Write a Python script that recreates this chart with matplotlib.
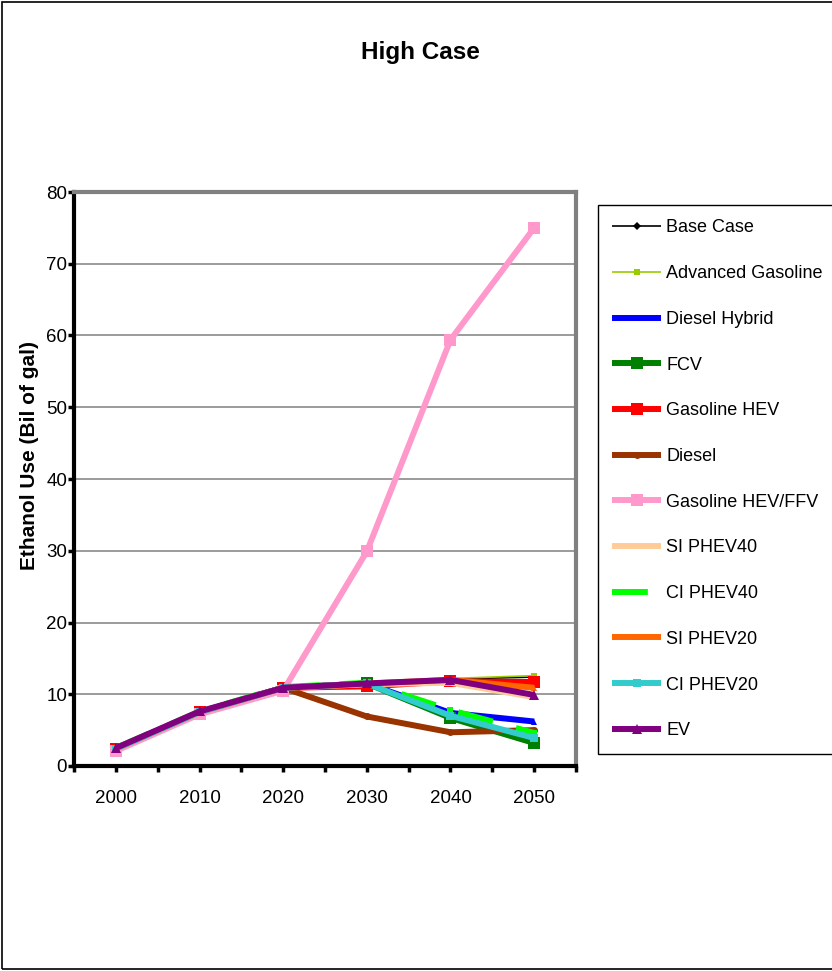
import numpy as np
import matplotlib
matplotlib.use("Agg")
import matplotlib.pyplot as plt
from matplotlib.patches import Rectangle

plt.rcParams["font.family"] = ["Liberation Sans", "DejaVu Sans"]

# ethanol use by scenario, billions of gallons
years = ["2000", "2010", "2020", "2030", "2040", "2050"]
base_case = [2.4, 7.5, 10.9, 11.5, 12.1, 12.4]
adv_gasoline = [2.4, 7.5, 10.9, 11.6, 12.2, 12.6]
diesel_hybrid = [2.4, 7.5, 10.9, 11.5, 7.4, 6.2]
fcv = [2.4, 7.5, 10.9, 11.5, 6.7, 3.2]
gasoline_hev = [2.4, 7.5, 10.9, 11.1, 11.8, 11.7]
diesel = [2.4, 7.5, 10.9, 6.9, 4.7, 5.0]
gasoline_hev_ffv = [2.1, 7.2, 10.5, 29.9, 59.4, 75.0]
si_phev40 = [2.4, 7.5, 10.9, 11.4, 11.6, 9.6]
ci_phev40 = [2.5, 7.6, 11.0, 11.6, 7.8, 4.6]
si_phev20 = [2.4, 7.5, 10.9, 11.5, 12.0, 10.9]
ci_phev20 = [2.4, 7.5, 10.9, 11.5, 7.0, 3.9]
ev = [2.5, 7.6, 10.9, 11.5, 12.0, 9.9]

series = [
    ("Base Case", base_case, dict(color="black", lw=1.2, marker="D", ms=4)),
    ("Advanced Gasoline", adv_gasoline, dict(color="#99CC00", lw=1.2, marker="s", ms=5)),
    ("Diesel Hybrid", diesel_hybrid, dict(color="#0000FF", lw=4.3, marker="^", ms=5)),
    ("FCV", fcv, dict(color="#008000", lw=4.3, marker="s", ms=9)),
    ("Gasoline HEV", gasoline_hev, dict(color="#FF0000", lw=4.3, marker="s", ms=9)),
    ("Diesel", diesel, dict(color="#993300", lw=4.3, marker="o", ms=5)),
    ("Gasoline HEV/FFV", gasoline_hev_ffv, dict(color="#FF99CC", lw=4.3, marker="s", ms=9)),
    ("SI PHEV40", si_phev40, dict(color="#FFCC99", lw=4.3, marker=None)),
    ("CI PHEV40", ci_phev40, dict(color="#00FF00", lw=4.3, marker="s", ms=4, dashes=(6, 4))),
    ("SI PHEV20", si_phev20, dict(color="#FF6600", lw=4.3, marker="^", ms=5)),
    ("CI PHEV20", ci_phev20, dict(color="#33CCCC", lw=4.3, marker="s", ms=6)),
    ("EV", ev, dict(color="#800080", lw=4.3, marker="^", ms=7)),
]

W, H = 832, 971
fig = plt.figure(figsize=(W / 100, H / 100), dpi=100)
ax = fig.add_axes([74 / W, 1 - 766 / H, 502 / W, 574 / H])

x = np.arange(len(years))
for label, vals, style in series:
    style = dict(style)
    mk = style.pop("marker")
    ms = style.pop("ms", 0)
    ax.plot(x, vals, label=label, marker=mk, markersize=ms,
            markeredgewidth=0, solid_capstyle="butt", **style)

ax.set_xlim(-0.5, len(years) - 0.5)
ax.set_ylim(0, 80)
ax.set_yticks(np.arange(0, 81, 10))
ax.set_xticks(x)
ax.set_xticks(np.arange(-0.5, len(years), 1.0), minor=True)
ax.set_xticklabels(years)
ax.tick_params(axis="both", which="both", direction="out", length=4, width=2.5,
               color="black", labelsize=13.5)
ax.tick_params(axis="x", pad=13)
ax.tick_params(axis="y", pad=1)
ax.yaxis.grid(True, color="#808080", lw=1.1)
ax.set_axisbelow(True)

for side in ("left", "bottom"):
    ax.spines[side].set_color("black")
    ax.spines[side].set_linewidth(3)
for side in ("top", "right"):
    ax.spines[side].set_color("#808080")
    ax.spines[side].set_linewidth(3)

fig.text(30 / W, 1 - 456 / H, "Ethanol Use (Bil of gal)", rotation=90,
         ha="center", va="center", fontsize=15, fontweight="bold")
fig.text(420 / W, 1 - 52 / H, "High Case", ha="center", va="center",
         fontsize=17.5, fontweight="bold")

leg = ax.legend(loc="upper left", bbox_to_anchor=(598 / W, 1 - 205 / H),
                bbox_transform=fig.transFigure, borderaxespad=0,
                fancybox=False, edgecolor="black", framealpha=1,
                handlelength=2.7, handletextpad=0.27, labelspacing=1.59,
                borderpad=0.8, numpoints=1, fontsize=13)
leg.get_frame().set_linewidth(1)

# outer chart border
fig.patches.append(Rectangle((2 / W, 2 / H), 1.0, 1 - 4 / H, transform=fig.transFigure,
                             fill=False, edgecolor="black", lw=1.2))

fig.savefig("out.png", dpi=100)
